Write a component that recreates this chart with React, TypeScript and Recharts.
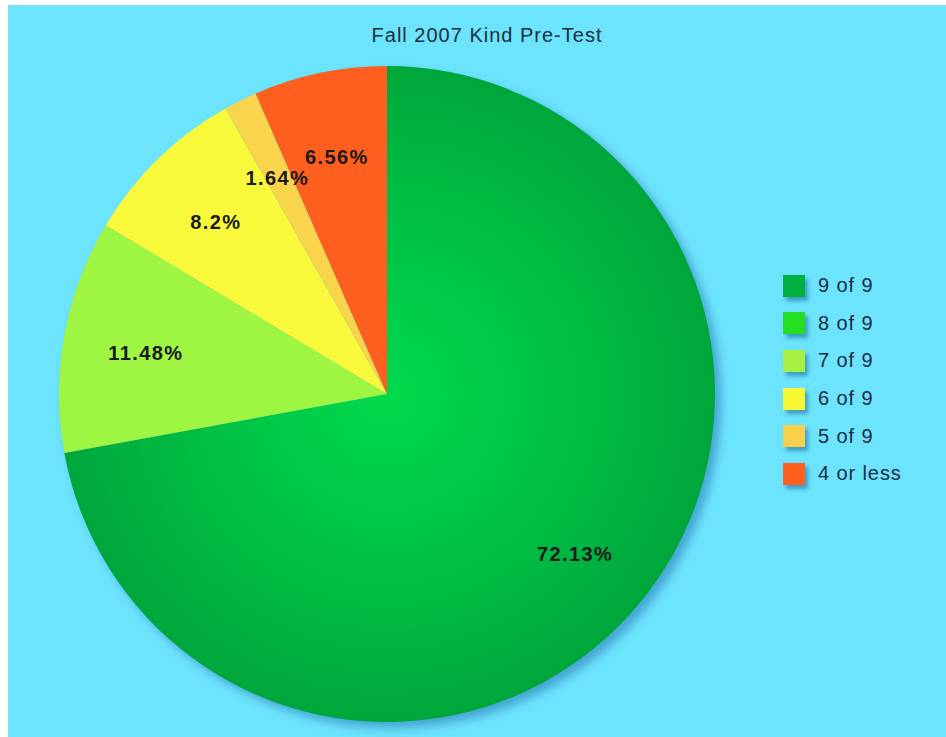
import { Cell, Legend, Pie, PieChart } from "recharts";

const title = "Fall 2007 Kind Pre-Test";
const categories = ["9 of 9", "8 of 9", "7 of 9", "6 of 9", "5 of 9", "4 or less"];
const percents = [72.13, 0, 11.48, 8.2, 1.64, 6.56];
const sliceColors = ["url(#greenGrad)", "#22e020", "#9ef542", "#f9f93c", "#f9d44c", "#fe5f1e"];
const legendColors = ["#00b040", "#22e020", "#a6f044", "#f8f834", "#f8d04c", "#ff6020"];

const data = categories.map((name, i) => ({ name, value: percents[i] }));

const W = 938;
const H = 732;
const FONT = "Liberation Sans, Arial, sans-serif";

function renderLabel(props: any) {
  const { cx, cy, midAngle, outerRadius, value } = props;
  if (!value) return null;
  const RAD = Math.PI / 180;
  const r = outerRadius * 0.747;
  const x = cx + r * Math.cos(-midAngle * RAD);
  const y = cy + r * Math.sin(-midAngle * RAD) + 3;
  return (
    <text
      x={x}
      y={y}
      textAnchor="middle"
      dominantBaseline="central"
      fill="#1a1a1a"
      fontSize={20}
      fontWeight="bold"
      letterSpacing={1.4}
      fontFamily={FONT}
    >
      {`${value}%`}
    </text>
  );
}

function LegendBox() {
  return (
    <div style={{ fontFamily: FONT }}>
      {categories.map((c, i) => (
        <div key={c} style={{ display: "flex", alignItems: "center", height: 37.6 }}>
          <span
            style={{
              width: 22,
              height: 22,
              background: legendColors[i],
              boxShadow: "3px 4px 4px rgba(0,70,130,0.45)",
              marginRight: 13,
            }}
          />
          <span style={{ fontSize: 20, letterSpacing: 0.9, color: "#1b2b3f" }}>{c}</span>
        </div>
      ))}
    </div>
  );
}

export default function App() {
  return (
    <div
      style={{
        position: "absolute",
        left: 8,
        top: 5,
        width: W,
        height: H,
        background: "#6de4fd",
      }}
    >
      <div
        style={{
          position: "absolute",
          left: 479,
          top: 20,
          transform: "translateX(-50%)",
          whiteSpace: "nowrap",
          fontFamily: FONT,
          fontSize: 20,
          lineHeight: "20px",
          letterSpacing: 1,
          color: "#17303c",
        }}
      >
        {title}
      </div>
      <PieChart
        width={W}
        height={H}
        margin={{ top: 0, right: 0, bottom: 0, left: 0 }}
        style={{ position: "absolute", left: 0, top: 0 }}
      >
        <defs>
          <radialGradient id="greenGrad" gradientUnits="userSpaceOnUse" cx={379} cy={389} r={328}>
            <stop offset="0%" stopColor="#00d94c" />
            <stop offset="60%" stopColor="#00be44" />
            <stop offset="100%" stopColor="#00a63b" />
          </radialGradient>
        </defs>
        <Pie
          data={data}
          dataKey="value"
          nameKey="name"
          cx={385}
          cy={395}
          outerRadius={328}
          startAngle={90}
          endAngle={-270}
          stroke="none"
          label={false}
          labelLine={false}
          legendType="none"
          isAnimationActive={false}
        >
          {data.map((d) => (
            <Cell key={d.name} fill="rgba(20,90,160,0.45)" style={{ filter: "blur(5px)" }} />
          ))}
        </Pie>
        <Pie
          data={data}
          dataKey="value"
          nameKey="name"
          cx={379}
          cy={389}
          outerRadius={328}
          startAngle={90}
          endAngle={-270}
          stroke="none"
          label={renderLabel}
          labelLine={false}
          isAnimationActive={false}
        >
          {data.map((d, i) => (
            <Cell key={d.name} fill={sliceColors[i]} />
          ))}
        </Pie>
        <Legend
          layout="vertical"
          verticalAlign="top"
          align="right"
          wrapperStyle={{ left: 775, top: 262, right: "auto", width: 150 }}
          content={<LegendBox />}
        />
      </PieChart>
    </div>
  );
}
